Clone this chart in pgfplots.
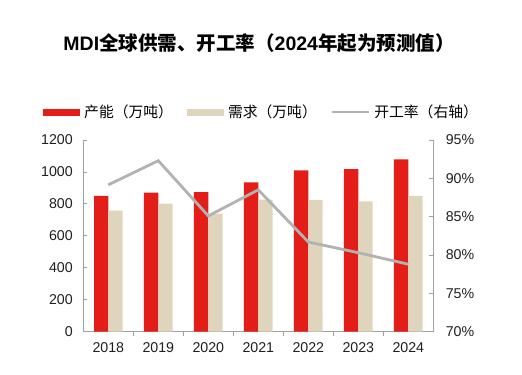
\documentclass[border=0pt]{standalone}
\usepackage{fontspec}
\setmainfont{Liberation Sans}
\newfontfamily\cjk{Noto Sans CJK SC}
\usepackage{pgfplots}
\pgfplotsset{compat=1.18}
\definecolor{barred}{RGB}{227,30,24}
\definecolor{barbeige}{RGB}{222,213,188}
\definecolor{linegray}{RGB}{178,178,178}
\definecolor{axgray}{RGB}{160,160,160}
\begin{document}
\begin{tikzpicture}
\path[use as bounding box] (0,0) rectangle (522bp,375bp);
\node[font=\fontsize{19.5bp}{22bp}\selectfont\bfseries] at (259bp,332bp) {MDI{\cjk 全球供需、开工率（}2024{\cjk 年起为预测值）}};
\begin{axis}[
  at={(83.3bp,43.3bp)}, anchor=south west,
  scale only axis, width=350bp, height=191.7bp,
  xmin=-0.5, xmax=6.5, ymin=0, ymax=1200,
  ybar=0pt, bar width=14.3bp,
  axis x line*=bottom, axis y line*=left,
  axis line style={axgray, line width=0.8bp},
  every tick/.style={axgray, line width=0.8bp},
  tick align=inside,
  xtick={0,...,6},
  xticklabels={2018,2019,2020,2021,2022,2023,2024},
  major x tick style={draw=none},
  minor xtick={0.5,1.5,2.5,3.5,4.5,5.5},
  minor x tick style={yshift=-4bp},
  minor tick length=4bp, major tick length=4bp,
  ytick={0,200,...,1200},
  /pgf/number format/assume math mode=true,
  /pgf/number format/1000 sep={},
  tick label style={font=\fontsize{14.2bp}{16bp}\selectfont, text=black!88},
  xticklabel style={yshift=-7bp},
  yticklabel style={xshift=-7bp},
  legend columns=3,
  legend style={at={(-0.115,1.146)}, anchor=west, draw=none, fill=none, inner sep=0pt,
    nodes={inner sep=0pt, font=\cjk\fontsize{14.8bp}{17bp}\selectfont},
    /tikz/every odd column/.append style={column sep=4bp},
    /tikz/every even column/.append style={column sep=14bp}},
  legend cell align=left,
]
\addplot[fill=barred, draw=none, legend image code/.code={\fill[barred] (0bp,-3.5bp) rectangle (37bp,3.5bp);}] coordinates {(0,850) (1,870) (2,873) (3,935) (4,1010) (5,1017) (6,1079)};
\addlegendentry{产能（万吨）}
\addplot[fill=barbeige, draw=none, legend image code/.code={\fill[barbeige] (0bp,-3.5bp) rectangle (37bp,3.5bp);}] coordinates {(0,758) (1,801) (2,739) (3,826) (4,825) (5,816) (6,850)};
\addlegendentry{需求（万吨）}
\addlegendimage{legend image code/.code={\draw[linegray, line width=2.5bp] (0bp,0bp) -- (37bp,0bp);}}
\addlegendentry{开工率（右轴）}
\end{axis}
\begin{axis}[
  at={(83.3bp,43.3bp)}, anchor=south west,
  scale only axis, width=350bp, height=191.7bp,
  xmin=-0.5, xmax=6.5, ymin=70, ymax=95,
  axis x line=none, axis y line*=right,
  axis line style={axgray, line width=0.8bp},
  every tick/.style={axgray, line width=0.8bp},
  tick align=inside,
  ytick={70,75,...,95},
  major tick length=4bp,
  /pgf/number format/assume math mode=true,
  yticklabel={\pgfmathprintnumber{\tick}\%},
  tick label style={font=\fontsize{14.2bp}{16bp}\selectfont, text=black!88},
  yticklabel style={xshift=9bp},
]
\addplot[linegray, line width=2.8bp, mark=none] coordinates {(0,89.15) (1,92.3) (2,85.1) (3,88.5) (4,81.7) (5,80.3) (6,78.8)};
\end{axis}
\end{tikzpicture}
\end{document}
